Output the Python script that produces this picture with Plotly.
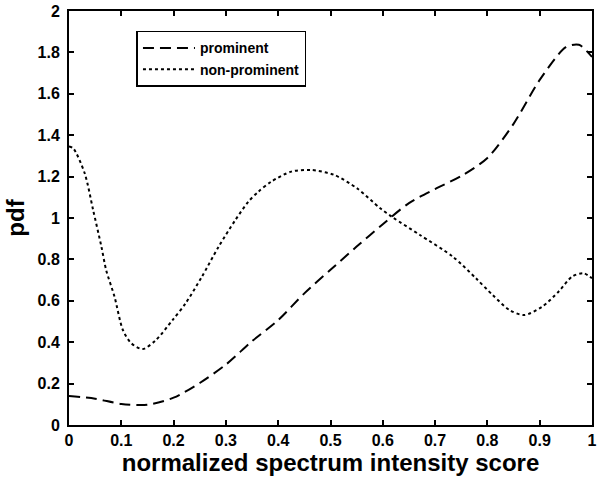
import plotly.graph_objects as go

# prominent (dashed)
prom_x = [0, 0.05, 0.1, 0.15, 0.2, 0.25, 0.3, 0.35, 0.4, 0.45, 0.5, 0.55, 0.6, 0.65,
          0.7, 0.75, 0.8, 0.85, 0.9, 0.95, 0.975, 1.0]
prom_y = [0.14, 0.127, 0.102, 0.098, 0.132, 0.203, 0.292, 0.405, 0.507, 0.636, 0.75, 0.862,
          0.97, 1.072, 1.14, 1.203, 1.29, 1.455, 1.667, 1.825, 1.837, 1.778]

# non-prominent (dotted)
non_x = [0.0, 0.008, 0.03, 0.046, 0.062, 0.071, 0.087, 0.103, 0.119, 0.141, 0.166, 0.198,
         0.223, 0.254, 0.286, 0.318, 0.343, 0.362, 0.387, 0.425, 0.463, 0.507, 0.551,
         0.595, 0.619, 0.671, 0.734, 0.778, 0.81, 0.842, 0.87, 0.905, 0.936, 0.962,
         0.984, 1.0]
non_y = [1.345, 1.337, 1.216, 1.04, 0.861, 0.749, 0.62, 0.459, 0.395, 0.367, 0.41, 0.507,
         0.588, 0.716, 0.861, 0.99, 1.079, 1.127, 1.176, 1.224, 1.232, 1.208, 1.143,
         1.047, 1.003, 0.918, 0.813, 0.709, 0.628, 0.556, 0.531, 0.572, 0.644, 0.717,
         0.733, 0.709]

x_ticks = [0, 0.1, 0.2, 0.3, 0.4, 0.5, 0.6, 0.7, 0.8, 0.9, 1]
x_labels = ["0", "0.1", "0.2", "0.3", "0.4", "0.5", "0.6", "0.7", "0.8", "0.9", "1"]
y_ticks = [0, 0.2, 0.4, 0.6, 0.8, 1, 1.2, 1.4, 1.6, 1.8, 2]
y_labels = ["0", "0.2", "0.4", "0.6", "0.8", "1", "1.2", "1.4", "1.6", "1.8", "2"]

FONT = "Liberation Sans"

fig = go.Figure()
fig.add_trace(go.Scatter(x=prom_x, y=prom_y, mode="lines", name="<b>prominent</b>",
                         line=dict(color="black", width=2, dash="11px,6px", shape="spline", smoothing=0.8)))
fig.add_trace(go.Scatter(x=non_x, y=non_y, mode="lines", name="<b>non-prominent</b>",
                         line=dict(color="black", width=2, dash="3px,3px", shape="spline", smoothing=0.8)))

axis_common = dict(showline=True, linecolor="black", linewidth=2, mirror="allticks",
                   ticks="inside", ticklen=5, tickwidth=2, tickcolor="black",
                   showgrid=False, zeroline=False,
                   tickfont=dict(family=FONT, size=16, color="black"))

fig.update_xaxes(range=[0, 1], tickvals=x_ticks, ticktext=[f"<b>{t}</b>" for t in x_labels],
                 ticklabeloverflow="allow",
                 title=dict(text="<b>normalized spectrum intensity score</b>",
                            font=dict(family=FONT, size=24, color="black"), standoff=4),
                 **axis_common)
fig.update_yaxes(range=[0, 2], tickvals=y_ticks, ticktext=[f"<b>{t}</b>" for t in y_labels],
                 ticklabelstandoff=4,
                 title=dict(text="<b>pdf</b>", font=dict(family=FONT, size=24, color="black"), standoff=6),
                 **axis_common)

fig.update_layout(
    width=598, height=480,
    margin=dict(l=69, r=1, t=11, b=55),
    plot_bgcolor="white", paper_bgcolor="white",
    font=dict(family=FONT, color="black"),
    legend=dict(x=0.129, y=0.952, xanchor="left", yanchor="top",
                bgcolor="white", bordercolor="black", borderwidth=1.5,
                font=dict(family=FONT, size=14, color="black"),
                itemwidth=52, tracegroupgap=0),
    showlegend=True,
)

fig.write_html("out.html")
